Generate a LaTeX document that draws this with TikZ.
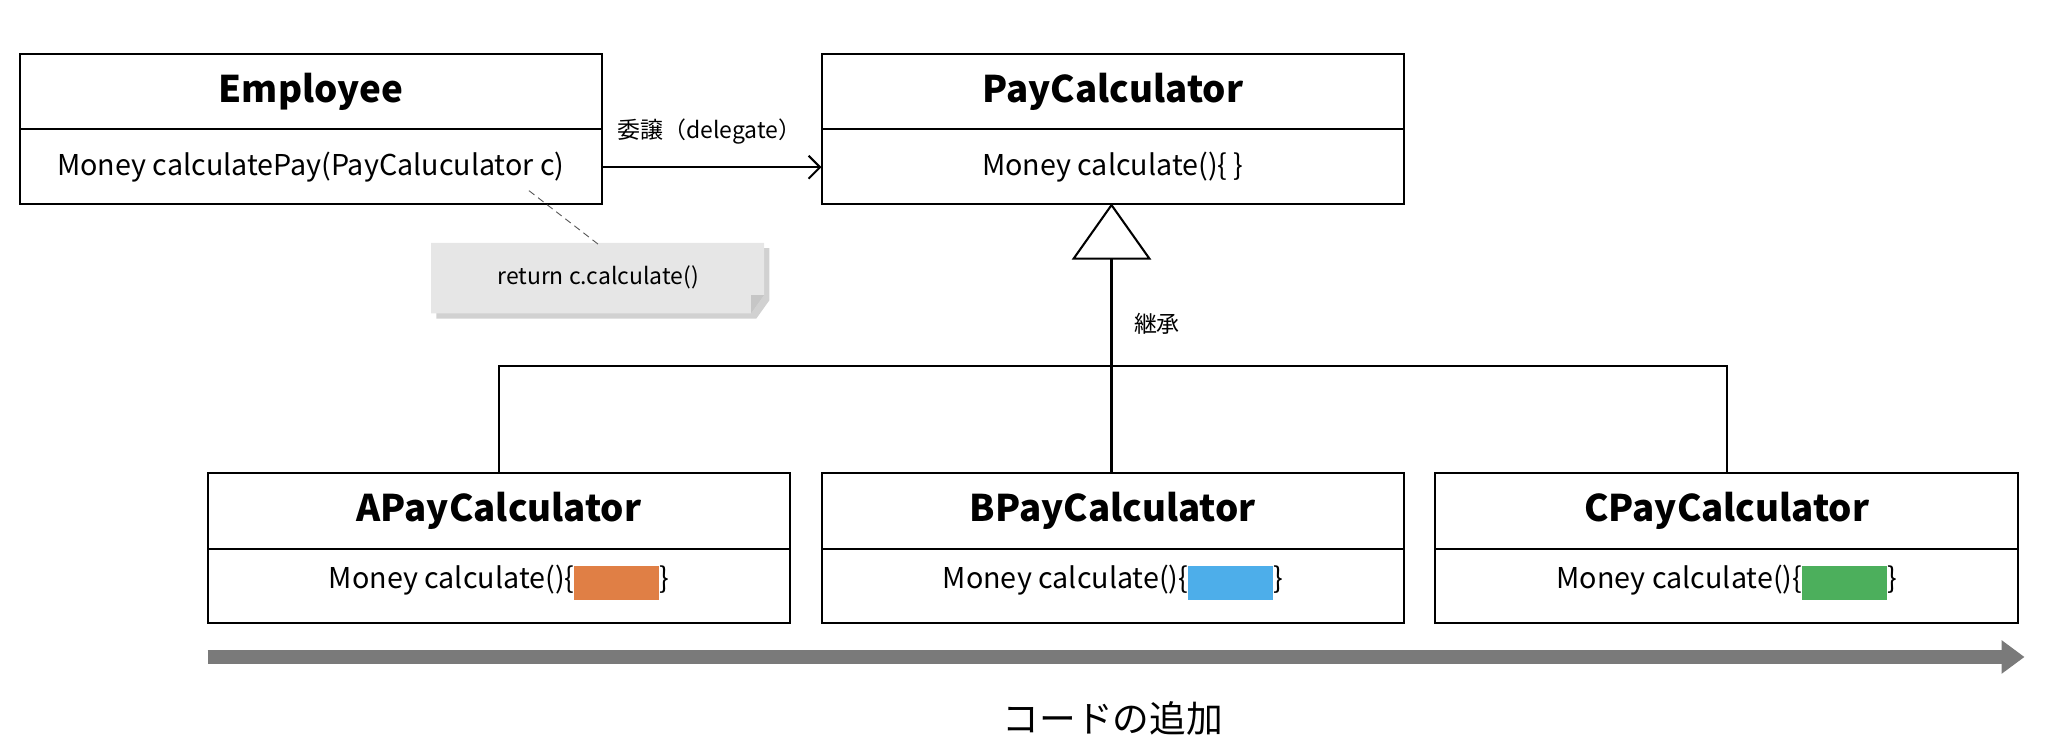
\documentclass[tikz,border=0pt]{standalone}
\usepackage{fontspec}
\setmainfont{Noto Sans CJK JP}
\usetikzlibrary{arrows.meta}
\definecolor{cOr}{HTML}{E07F45}
\definecolor{cBl}{HTML}{4DAEEA}
\definecolor{cGr}{HTML}{4CAF5C}
\definecolor{noteg}{HTML}{E6E6E6}
\definecolor{arrg}{HTML}{7A7A7A}
\newcommand{\blk}[1]{\textcolor{#1}{\rule[-5pt]{1.3cm}{0.52cm}}}
\tikzset{
 ttl/.style={font=\fontsize{16}{18}\selectfont\bfseries},
 body/.style={font=\fontsize{12.5}{14}\selectfont},
 small/.style={font=\fontsize{10}{12}\selectfont},
 ln/.style={line width=0.9pt}
}
\begin{document}
\begin{tikzpicture}[x=0.02cm,y=-0.02cm]
\useasboundingbox (0,0) rectangle (1568,577);
\foreach \n/\x/\y/\t in {emp/15/41/Employee,pc/629/41/PayCalculator,a/159/362/APayCalculator,b/629/362/BPayCalculator,c/1099/362/CPayCalculator}{
  \draw[ln] (\x,\y) rectangle ++(446,115);
  \draw[ln] (\x,\y+58) -- ++(446,0);
  \node[ttl] (\n t) at (\x+223,\y+29) {\t};
}
\node[body] (empm) at (238,128) {Money calculatePay(PayCaluculator c)};
\node[body] (pcm) at (852,128) {Money calculate()\{ \}};
\node[body] (am) at (382,446) {Money calculate()\{\blk{cOr}\}};
\node[body] (bm) at (852,446) {Money calculate()\{\blk{cBl}\}};
\node[body] (cm) at (1322,446) {Money calculate()\{\blk{cGr}\}};
\coordinate (d1) at (460,128); \coordinate (d2) at (629,128);
\draw[ln,-{Straight Barb[length=5pt,width=10pt]}] (d1) -- (d2);
\node[small] (dl) at (543,101) {委譲（delegate）};
\fill[gray!60,opacity=0.6] (334,190) -- (589,190) -- (589,230) -- (579,244) -- (334,244) -- cycle;
\fill[noteg] (330,186) -- (585,186) -- (585,226) -- (575,240) -- (330,240) -- cycle;
\fill[gray!45] (585,226) -- (575,226) -- (575,240) -- cycle;
\node[small] (note) at (458,212) {return c.calculate()};
\coordinate (n1) at (405,146); \coordinate (n2) at (458,187);
\draw[densely dashed,gray!70!black,line width=0.4pt] (n1) -- (n2);
\coordinate (apex) at (851,157);
\draw[ln] (apex) -- (880,198) -- (822,198) -- cycle;
\coordinate (tb) at (851,198);
\draw[ln] (tb) -- (851,362);
\draw[ln] (382,362) -- (382,280) -- (1322,280) -- (1322,362);
\node[small,anchor=west] (inh) at (862,248) {継承};
\coordinate (g1) at (159,503); \coordinate (g2) at (1550,503);
\draw[line width=6pt,arrg,-{Triangle[length=10pt,width=14pt]}] (g1) -- (g2);
\node[font=\fontsize{16}{18}\selectfont] (add) at (852,550) {コードの追加};
\end{tikzpicture}
\end{document}
